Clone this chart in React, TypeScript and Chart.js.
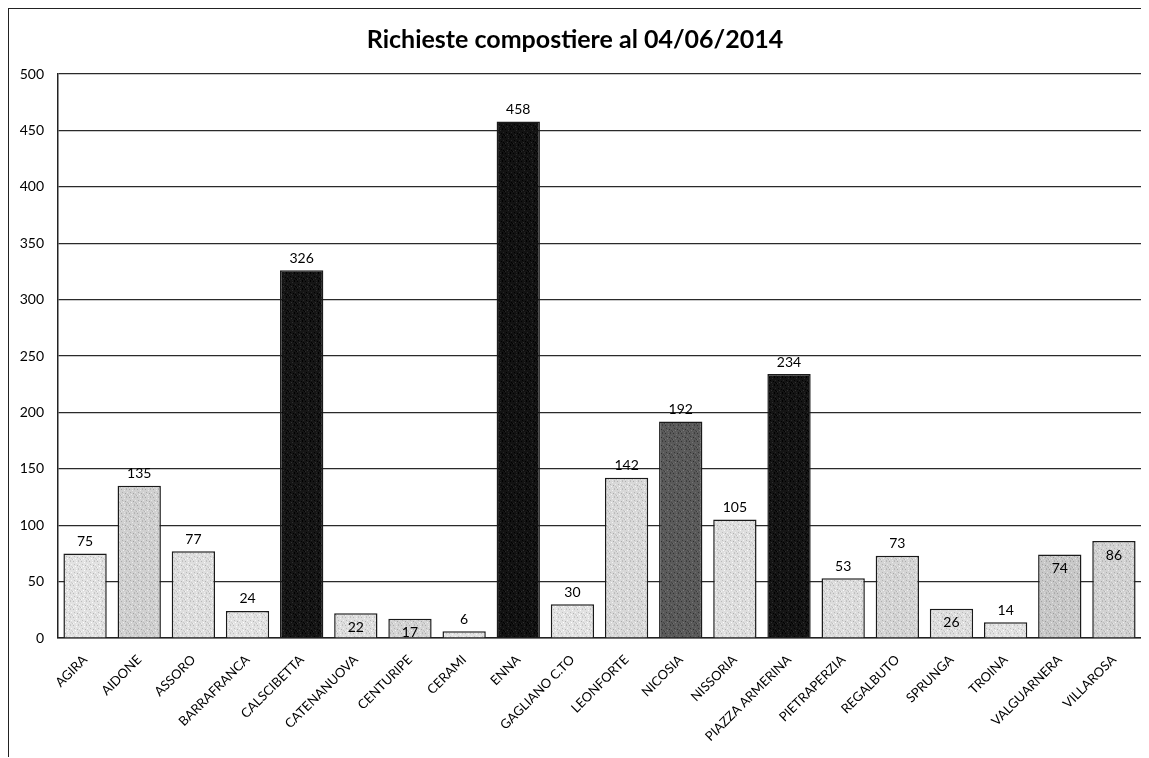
import React, { useEffect, useRef } from "react";
import { Chart, registerables } from "chart.js";

Chart.register(...registerables);

const comuni: string[] = [
  "AGIRA", "AIDONE", "ASSORO", "BARRAFRANCA", "CALSCIBETTA", "CATENANUOVA",
  "CENTURIPE", "CERAMI", "ENNA", "GAGLIANO C.TO", "LEONFORTE", "NICOSIA",
  "NISSORIA", "PIAZZA ARMERINA", "PIETRAPERZIA", "REGALBUTO", "SPRUNGA",
  "TROINA", "VALGUARNERA", "VILLAROSA",
];

const richieste: number[] = [
  75, 135, 77, 24, 326, 22, 17, 6, 458, 30, 142, 192, 105, 234, 53, 73, 26, 14, 74, 86,
];

const barColors: string[] = [
  "#e2e2e2", "#d0d0d0", "#dedede", "#e2e2e2", "#151515", "#dedede", "#d4d4d4",
  "#e2e2e2", "#121212", "#e2e2e2", "#d8d8d8", "#5a5a5a", "#dedede", "#141414",
  "#dcdcdc", "#d4d4d4", "#dedede", "#e2e2e2", "#c8c8c8", "#d2d2d2",
];

// labels that sit inside the top of their bar rather than above it
const labelInside: boolean[] = [
  false, false, false, false, false, true, true, false, false, false,
  false, false, false, false, false, false, true, false, true, true,
];

const yTicks: number[] = [0, 50, 100, 150, 200, 250, 300, 350, 400, 450, 500];

const FONT = "Lato, 'Open Sans', sans-serif";

// stippled fill: a small tile of the base tone with a fixed scatter of darker/lighter dots
const DOTS: [number, number, number][] = [
  [0, 0, -40], [3, 1, 25], [5, 0, -30], [1, 3, -35], [6, 3, 20], [4, 4, -45],
  [2, 5, 30], [7, 6, -30], [0, 6, 20], [5, 7, -25], [3, 7, 15], [6, 5, -20],
];

function stipple(color: string): CanvasPattern | string {
  const tile = document.createElement("canvas");
  tile.width = 8;
  tile.height = 8;
  const c = tile.getContext("2d");
  if (!c) return color;
  c.fillStyle = color;
  c.fillRect(0, 0, 8, 8);
  const base = parseInt(color.slice(1, 3), 16);
  for (const [x, y, d] of DOTS) {
    const v = Math.max(0, Math.min(255, base + d));
    c.fillStyle = `rgb(${v},${v},${v})`;
    c.fillRect(x, y, 1, 1);
  }
  const p = c.createPattern(tile, "repeat");
  return p || color;
}

const valueLabels = {
  id: "valueLabels",
  afterDatasetsDraw(chart: Chart) {
    const ctx = chart.ctx;
    const meta = chart.getDatasetMeta(0);
    ctx.save();
    ctx.font = `14px ${FONT}`;
    ctx.fillStyle = "#000";
    ctx.textAlign = "center";
    ctx.textBaseline = "middle";
    meta.data.forEach((bar: any, i: number) => {
      const y = labelInside[i] ? bar.y + 14 : bar.y - 12;
      ctx.fillText(String(richieste[i]), bar.x, y);
    });
    ctx.restore();
  },
};

export default function App() {
  const canvasRef = useRef<HTMLCanvasElement | null>(null);

  useEffect(() => {
    if (!canvasRef.current) return;
    const chart = new Chart(canvasRef.current, {
      type: "bar",
      data: {
        labels: comuni,
        datasets: [
          {
            data: richieste,
            backgroundColor: barColors.map(stipple) as any,
            borderColor: "#1a1a1a",
            borderWidth: 1.5,
            barPercentage: 0.8,
            categoryPercentage: 1,
          },
        ],
      },
      options: {
        animation: false,
        responsive: false,
        maintainAspectRatio: false,
        layout: { padding: { left: 0, right: 7, top: 0, bottom: 0 } },
        plugins: {
          legend: { display: false },
          tooltip: { enabled: false },
          title: {
            display: true,
            text: "Richieste compostiere al 04/06/2014",
            color: "#000",
            font: { family: FONT, size: 25, weight: "bold" },
            padding: { top: 16, bottom: 19 },
          },
        },
        scales: {
          x: {
            grid: { display: false },
            border: { display: true, color: "#222", width: 1.5 },
            ticks: {
              color: "#000",
              font: { family: FONT, size: 13 },
              maxRotation: 45,
              minRotation: 45,
              autoSkip: false,
              padding: 6,
            },
            afterFit(scale: any) {
              scale.height = 118;
            },
          },
          y: {
            min: 0,
            max: 500,
            afterBuildTicks(scale: any) {
              scale.ticks = yTicks.map((v) => ({ value: v }));
            },
            grid: { color: "#2a2a2a", lineWidth: 1.2, drawTicks: false },
            border: { display: true, color: "#222", width: 1.5 },
            ticks: {
              color: "#000",
              font: { family: FONT, size: 14 },
              padding: 14,
            },
            afterFit(scale: any) {
              scale.width = 49;
            },
          },
        },
      },
      plugins: [valueLabels],
    });
    return () => chart.destroy();
  }, []);

  return (
    <div
      style={{
        width: 1141,
        height: 749,
        borderTop: "1.5px solid #222",
        borderLeft: "1.5px solid #222",
        boxSizing: "border-box",
        background: "#fff",
      }}
    >
      <canvas ref={canvasRef} width={1139} height={747} />
    </div>
  );
}
